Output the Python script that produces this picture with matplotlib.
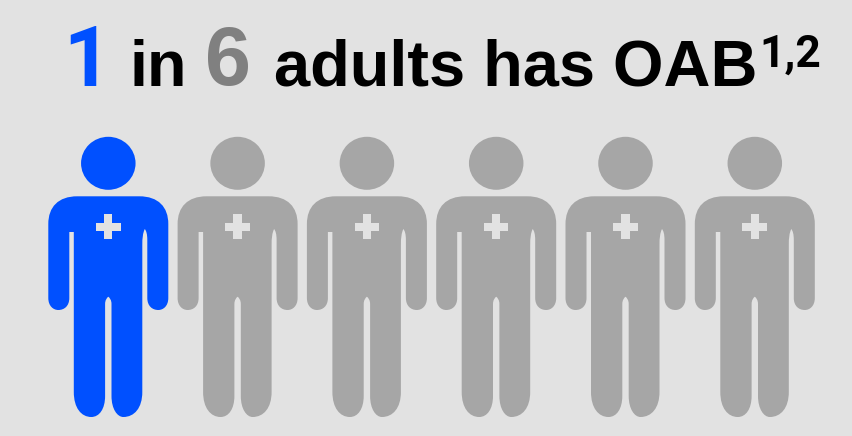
import matplotlib
matplotlib.use("Agg")
import matplotlib.pyplot as plt
from matplotlib.patches import Ellipse, PathPatch
from matplotlib.path import Path

total_people = 6
affected_people = 1
headline_parts = ["1", "in", "6", "adults has OAB", "1,2"]

BACKGROUND = "#E2E2E2"
BLUE = "#0050FF"
GRAY = "#A6A6A6"
NUMBER_GRAY = "#808080"

L, C4, Z = Path.LINETO, Path.CURVE4, Path.CLOSEPOLY


def body_path(cx):
    """Outline of the torso, arms and legs, with the shape centred on cx."""
    pts = [
        (-31, 196.3),
        (31, 196.3),
        (50, 196.3), (60, 207), (60, 224),
        (60, 298),
        (60, 306), (55, 310), (50, 310),
        (44, 310), (39, 306), (39, 298),
        (39, 240),
        (39, 234), (38, 231), (36.5, 229),
        (34.5, 233), (34, 238), (34, 245),
        (34, 392),
        (34, 408), (26, 417), (15, 417),
        (9, 417), (3.2, 409), (3.2, 396),
        (3.2, 304),
        (3.2, 300), (1.5, 298), (0, 296.7),
        (-1.5, 298), (-3.2, 300), (-3.2, 304),
        (-3.2, 396),
        (-3.2, 409), (-9, 417), (-17, 417),
        (-27, 417), (-34.5, 408), (-34.5, 392),
        (-34.5, 232),
        (-39, 232),
        (-39, 298),
        (-39, 306), (-44, 310), (-50, 310),
        (-55, 310), (-60, 306), (-60, 298),
        (-60, 224),
        (-60, 207), (-50, 196.3), (-31, 196.3),
        (-31, 196.3),
    ]
    codes = [
        Path.MOVETO, L,
        C4, C4, C4,
        L,
        C4, C4, C4,
        C4, C4, C4,
        L,
        C4, C4, C4,
        C4, C4, C4,
        L,
        C4, C4, C4,
        C4, C4, C4,
        L,
        C4, C4, C4,
        C4, C4, C4,
        L,
        C4, C4, C4,
        C4, C4, C4,
        L,
        L,
        L,
        C4, C4, C4,
        C4, C4, C4,
        L,
        C4, C4, C4,
        Z,
    ]
    return Path([(cx + x, y) for x, y in pts], codes)


def cross_path(cx, cy=226.7, half=12.3, arm=4.2):
    pts = [
        (-arm, -half), (arm, -half), (arm, -arm), (half, -arm),
        (half, arm), (arm, arm), (arm, half), (-arm, half),
        (-arm, arm), (-half, arm), (-half, -arm), (-arm, -arm), (-arm, -half),
    ]
    codes = [Path.MOVETO] + [L] * 11 + [Z]
    return Path([(cx + x, cy + y) for x, y in pts], codes)


fig = plt.figure(figsize=(8.53, 4.36), dpi=100, facecolor=BACKGROUND)
ax = fig.add_axes([0, 0, 1, 1])
ax.set_xlim(0, 853)
ax.set_ylim(436, 0)
ax.axis("off")

# Row of figures: the affected share in blue, the rest in gray
for i in range(total_people):
    cx = 108.3 + i * 129.3
    color = BLUE if i < affected_people else GRAY
    ax.add_patch(Ellipse((cx, 163.3), 54.5, 53, facecolor=color, edgecolor="none"))
    ax.add_patch(PathPatch(body_path(cx), facecolor=color, edgecolor="none"))
    ax.add_patch(PathPatch(cross_path(cx), facecolor=BACKGROUND, edgecolor="none"))

# Headline, set piece by piece because the numerals are larger.
# Roboto supplies the plain-stemmed "1" that Liberation Sans lacks.
font = dict(weight="bold", va="baseline", ha="left")
ax.text(63.6, 85.5, headline_parts[0], fontsize=59.5, color=BLUE, family="Roboto", **font)
ax.text(129.4, 85.5, headline_parts[1], fontsize=46.5, color="black", family="Liberation Sans", **font)
ax.text(205.1, 85.5, headline_parts[2], fontsize=59.5, color=NUMBER_GRAY, family="Liberation Sans", **font)
ax.text(274.5, 85.5, headline_parts[3], fontsize=46.8, color="black", family="Liberation Sans", **font)
ax.text(759.5, 66.5, headline_parts[4], fontsize=32, color="black", family="Roboto", **font)

fig.savefig("out.png", dpi=100, facecolor=BACKGROUND)
